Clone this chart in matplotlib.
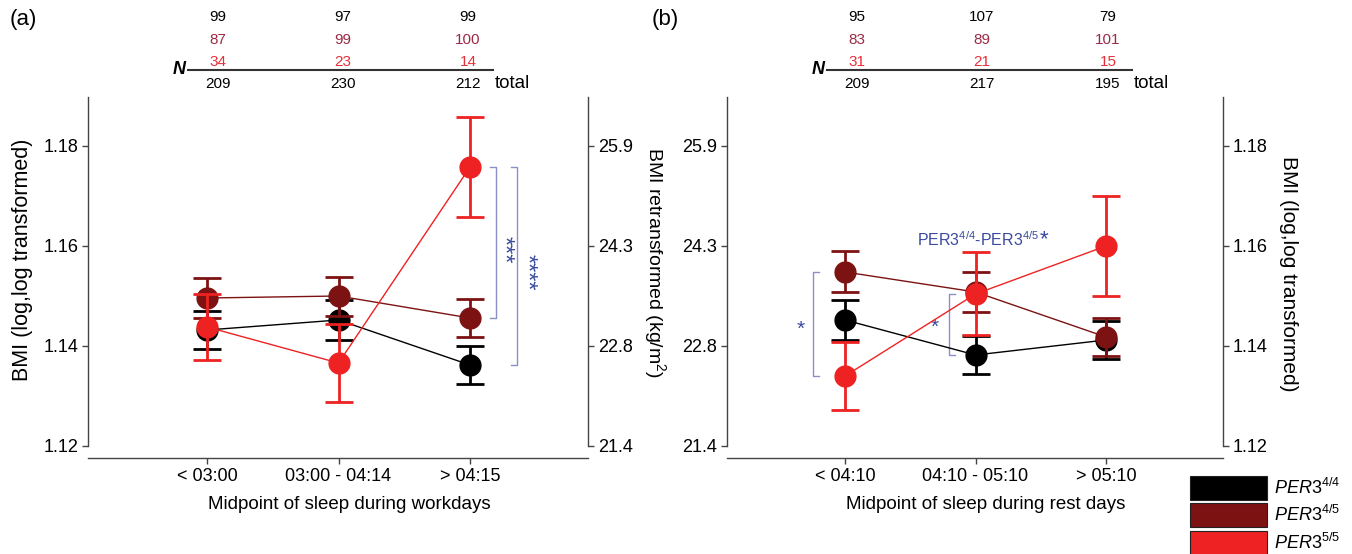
import numpy as np
import matplotlib
matplotlib.use("Agg")
import matplotlib.pyplot as plt
from matplotlib.patches import Rectangle
from matplotlib.lines import Line2D

plt.rcParams['font.family'] = ['Liberation Sans', 'DejaVu Sans']
plt.rcParams['mathtext.fontset'] = 'custom'
plt.rcParams['mathtext.rm'] = 'Liberation Sans'
plt.rcParams['mathtext.it'] = 'Liberation Sans:italic'
plt.rcParams['mathtext.bf'] = 'Liberation Sans:bold'

# ---------------- data ----------------
genotypes = ["4/4", "4/5", "5/5"]
series_colors = ["#000000", "#7d1212", "#ee2222"]
n_colors = ["#000000", "#9b2a45", "#e5303a"]

cats_a = ["< 03:00", "03:00 - 04:14", "> 04:15"]
cats_b = ["< 04:10", "04:10 - 05:10", "> 05:10"]

a_44 = [1.1432, 1.1452, 1.1362]
a_44_err = [0.0038, 0.0039, 0.0038]
a_45 = [1.1496, 1.1500, 1.1456]
a_45_err = [0.0040, 0.0039, 0.0038]
a_55 = [1.1438, 1.1366, 1.1758]
a_55_err = [0.0066, 0.0078, 0.0100]

b_44 = [1.1452, 1.1382, 1.1412]
b_44_err = [0.0039, 0.0038, 0.0038]
b_45 = [1.1548, 1.1508, 1.1418]
b_45_err = [0.0041, 0.0040, 0.0038]
b_55 = [1.1340, 1.1504, 1.1600]
b_55_err = [0.0068, 0.0083, 0.0100]

n_a_44 = [99, 97, 99]
n_a_45 = [87, 99, 100]
n_a_55 = [34, 23, 14]
n_a_total = [209, 230, 212]

n_b_44 = [95, 107, 79]
n_b_45 = [83, 89, 101]
n_b_55 = [31, 21, 15]
n_b_total = [209, 217, 195]

yticks_log = [1.12, 1.14, 1.16, 1.18]

# ---------------- layout helpers ----------------
W, H = 1352, 554
fig = plt.figure(figsize=(W / 100, H / 100), dpi=100)


def fx(x):
    return x / W


def fy(y):
    return 1 - y / H


AX_TOP, AX_BOT = 97, 458
ylim = (1.1176, 1.1898)
xlim = (0.095, 3.897)
xpos = np.arange(1, 4)
spine_col = "#444444"
sig_line = "#8a8fc6"
sig_text = "#3a4a9e"

ax_a = fig.add_axes([fx(88), fy(AX_BOT), fx(588) - fx(88), fy(AX_TOP) - fy(AX_BOT)])
ax_b = fig.add_axes([fx(727), fy(AX_BOT), fx(1223) - fx(727), fy(AX_TOP) - fy(AX_BOT)])


def retrans(v):
    return "%.1f" % np.exp(np.exp(v))


def setup(ax, cats, left_log, xlabel):
    ax.set_xlim(*xlim)
    ax.set_ylim(*ylim)
    tw = ax.twinx()
    tw.set_ylim(*ylim)
    for a in (ax, tw):
        a.spines['top'].set_visible(False)
        for s in a.spines.values():
            s.set_color(spine_col)
            s.set_linewidth(1.0)
    ax.spines['right'].set_visible(False)
    tw.spines['left'].set_visible(False)
    tw.spines['bottom'].set_visible(False)
    ax.spines['left'].set_bounds(1.12, ylim[1])
    tw.spines['right'].set_bounds(1.12, ylim[1])
    ax.set_yticks(yticks_log)
    tw.set_yticks(yticks_log)
    log_lbl = ["%.2f" % v for v in yticks_log]
    re_lbl = [retrans(v) for v in yticks_log]
    if left_log:
        ax.set_yticklabels(log_lbl)
        tw.set_yticklabels(re_lbl)
    else:
        ax.set_yticklabels(re_lbl)
        tw.set_yticklabels(log_lbl)
    ax.set_xticks(xpos)
    ax.set_xticklabels(cats)
    for a in (ax, tw):
        a.tick_params(axis='y', length=4, width=1, color=spine_col, labelsize=13, pad=3)
    ax.tick_params(axis='x', length=4, width=1, color=spine_col, labelsize=13, pad=3)
    ax.set_xlabel(xlabel, fontsize=13.5)
    ax.xaxis.set_label_coords(0.522, -0.105)
    return tw


tw_a = setup(ax_a, cats_a, True, "Midpoint of sleep during workdays")
tw_b = setup(ax_b, cats_b, False, "Midpoint of sleep during rest days")
ax_a.set_ylabel("BMI (log,log transformed)", fontsize=15.5, va='center')
ax_a.yaxis.set_label_coords(-0.13, 0.55)
tw_a.set_ylabel("BMI retransformed (kg/m$^{2}$)", fontsize=14, rotation=270, va='center')
tw_a.yaxis.set_label_coords(1.134, 0.54)
tw_b.set_ylabel("BMI (log,log transformed)", fontsize=15, rotation=270, va='center')
tw_b.yaxis.set_label_coords(1.133, 0.51)


def draw_series(ax, vals, errs):
    for i, (v, e) in enumerate(zip(vals, errs)):
        ax.errorbar(xpos, v, yerr=e, fmt='-o', color=series_colors[i], ms=15,
                    lw=1.0, elinewidth=2.0, capsize=10, capthick=2.0, zorder=3 + i)


draw_series(ax_a, [a_44, a_45, a_55], [a_44_err, a_45_err, a_55_err])
draw_series(ax_b, [b_44, b_45, b_55], [b_44_err, b_45_err, b_55_err])


def bracket(ax, x, y0, y1, tick, stars, sx, rot, size, dy=0.0):
    ax.plot([x + tick, x, x, x + tick], [y0, y0, y1, y1], color=sig_line, lw=1.0,
            zorder=2, clip_on=False)
    ax.text(sx, (y0 + y1) / 2 + dy, stars, color=sig_text, fontsize=size, rotation=rot,
            ha='center', va='center')


tk = 6 / 131.5
bracket(ax_a, 3.198, a_55[2], a_45[2], -tk, "***", 3.25, 270, 17, -0.0015)
bracket(ax_a, 3.357, a_55[2], a_44[2], -tk, "****", 3.43, 270, 17, -0.0012)
bracket(ax_b, 0.757, b_45[0], b_55[0], tk, "*", 0.66, 0, 15, -0.001)
bracket(ax_b, 1.795, b_55[1], b_44[1], tk, "*", 1.69, 0, 15, -0.0006)

t = ax_b.text(2.02, 1.1612, r"PER3$^{\mathrm{4/4}}$-PER3$^{\mathrm{4/5}}$", color=sig_text,
              fontsize=11.5, ha='center', va='center')
ax_b.annotate("*", xy=(1.0, 0.5), xycoords=t, ha='left', va='center',
              color=sig_text, fontsize=16)

# ---------------- N tables ----------------
row_y = [17, 40, 62]


def n_table(cols, rows, totals, nx, line_x0, line_x1):
    for r, vals in enumerate(rows):
        for cx, v in zip(cols, vals):
            fig.text(fx(cx), fy(row_y[r]), str(v), color=n_colors[r], fontsize=11,
                     ha='center', va='center')
    for cx, v in zip(cols, totals):
        fig.text(fx(cx), fy(84), str(v), color='black', fontsize=11, ha='center', va='center')
    fig.add_artist(Line2D([fx(line_x0), fx(line_x1)], [fy(70), fy(70)],
                          color='#333333', lw=1.5))
    fig.text(fx(nx), fy(70), "N", fontsize=13, fontweight='bold', fontstyle='italic',
             ha='center', va='center')
    fig.text(fx(line_x1 + 2), fy(83), "total", fontsize=13.5, ha='left', va='center')


n_table([218, 343, 468], [n_a_44, n_a_45, n_a_55], n_a_total, 179, 188, 493)
n_table([857, 982, 1108], [n_b_44, n_b_45, n_b_55], n_b_total, 818, 827, 1132)

fig.text(fx(10), fy(20), "(a)", fontsize=16, ha='left', va='center')
fig.text(fx(652), fy(20), "(b)", fontsize=16, ha='left', va='center')

# ---------------- legend ----------------
box_x0, box_w, box_h = 1190, 77, 24
box_tops = [476, 503, 531]
for i, g in enumerate(genotypes):
    fig.add_artist(Rectangle((fx(box_x0), fy(box_tops[i] + box_h)), fx(box_w), box_h / H,
                             transform=fig.transFigure, facecolor=series_colors[i],
                             edgecolor='#222222', lw=0.8))
    fig.text(fx(box_x0 + box_w + 7), fy(box_tops[i] + box_h / 2),
             r"$\mathit{PER3}^{\mathit{%s}}$" % g, fontsize=13, ha='left', va='center')

fig.savefig("out.png", dpi=100)
